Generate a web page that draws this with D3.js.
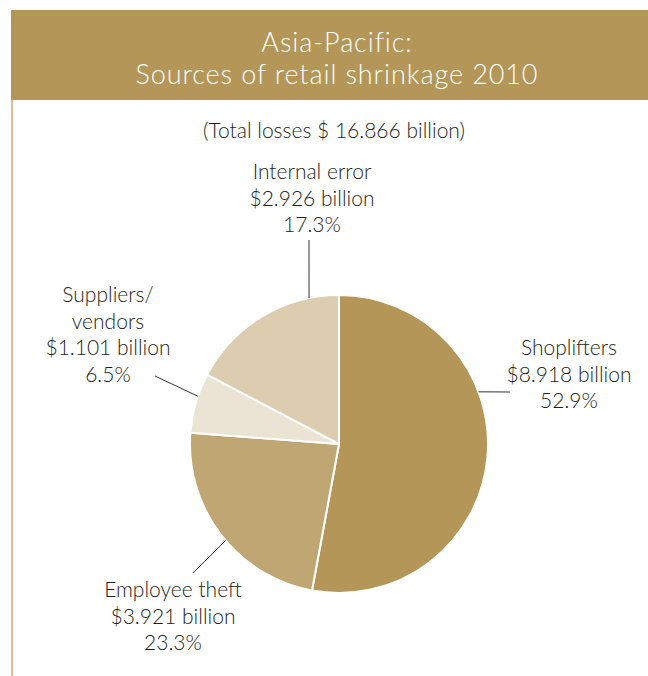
<!DOCTYPE html>
<html>
<head>
<meta charset="utf-8">
<script src="https://cdn.jsdelivr.net/npm/d3@7"></script>
<style>
  html, body { margin: 0; padding: 0; background: #fff; }
  svg { display: block; }
  text { font-family: Lato, "Open Sans", sans-serif; }
</style>
</head>
<body>
<svg id="chart" width="648" height="676"></svg>
<script>
// Sources of retail shrinkage, Asia-Pacific 2010
const categories = ["Shoplifters", "Employee theft", "Suppliers/vendors", "Internal error"];
const billions   = [8.918, 3.921, 1.101, 2.926];
const shares     = [52.9, 23.3, 6.5, 17.3];
const labelLines = [
  ["Shoplifters", "$8.918 billion", "52.9%"],
  ["Employee theft", "$3.921 billion", "23.3%"],
  ["Suppliers/", "vendors", "$1.101 billion", "6.5%"],
  ["Internal error", "$2.926 billion", "17.3%"]
];
const sliceColors = ["#b39658", "#bfa673", "#ebe3d4", "#ddcdb0"];
const titleLines = ["Asia-Pacific:", "Sources of retail shrinkage 2010"];
const subtitle = "(Total losses $ 16.866 billion)";

const svg = d3.select("#chart");
const W = 648;

// header band and left rule
svg.append("rect").attr("x", 11).attr("y", 10).attr("width", W - 11).attr("height", 90)
  .attr("fill", "#b39658");
svg.append("line").attr("x1", 12).attr("x2", 12).attr("y1", 100).attr("y2", 676)
  .attr("stroke", "#c9a467").attr("stroke-width", 1.4);

svg.selectAll("text.title").data(titleLines).join("text")
  .attr("class", "title")
  .attr("x", 337).attr("y", (d, i) => 51.5 + i * 32.5)
  .attr("text-anchor", "middle")
  .attr("fill", "#fff").attr("font-size", 27).attr("font-weight", 300)
  .attr("letter-spacing", 0.9)
  .text(d => d);

svg.append("text").attr("x", 334).attr("y", 138).attr("text-anchor", "middle")
  .attr("fill", "#231f20").attr("font-size", 21).attr("font-weight", 300).text(subtitle);

// pie
const cx = 339, cy = 444, R = 149;
const pie = d3.pie().sort(null).value(d => d);
const arcs = pie(shares);
const arc = d3.arc().innerRadius(0).outerRadius(R);
const g = svg.append("g").attr("transform", `translate(${cx},${cy})`);
g.selectAll("path").data(arcs).join("path")
  .attr("d", arc)
  .attr("fill", (d, i) => sliceColors[i])
  .attr("stroke", "#fff").attr("stroke-width", 2).attr("stroke-linejoin", "round");

// label layout: edge angle of the leader (deg), leader outer end, text centre and first baseline
const layout = [
  { edge: 69.5,  end: [510, 392], tx: 569, ty: 355 },
  { edge: 229.6, end: [193, 573], tx: 173, ty: 597 },
  { edge: 288.7, end: [155, 376], tx: 108, ty: 302 },
  { edge: 348.4, end: [309, 240], tx: 312, ty: 179 }
];
const lh = 26.5;

layout.forEach((L, i) => {
  const a = L.edge * Math.PI / 180;
  const px = cx + R * Math.sin(a), py = cy - R * Math.cos(a);
  svg.append("line")
    .attr("x1", px).attr("y1", py).attr("x2", L.end[0]).attr("y2", L.end[1])
    .attr("stroke", "#333").attr("stroke-width", 1);
  const t = svg.append("text").attr("text-anchor", "middle")
    .attr("fill", "#231f20").attr("font-size", 21).attr("font-weight", 300);
  labelLines[i].forEach((s, j) => {
    t.append("tspan").attr("x", L.tx).attr("y", L.ty + j * lh).text(s);
  });
});
</script>
</body>
</html>
